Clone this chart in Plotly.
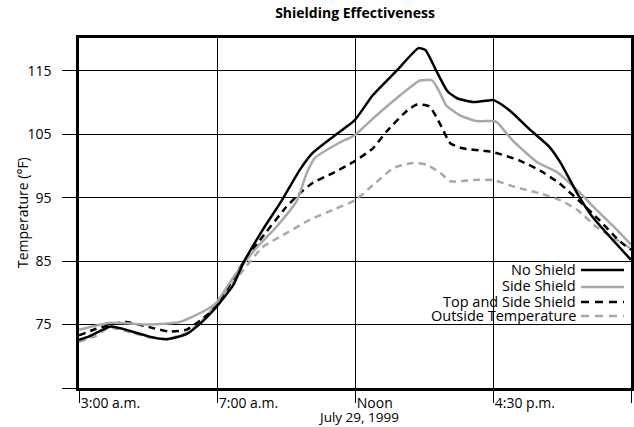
import plotly.graph_objects as go

# x positions along the axis (0 = 3:00 a.m., 1 = 7:00 a.m., 2 = Noon, 3 = 4:30 p.m., 4 = right end)
no_shield_x = [0, 0.07, 0.23, 0.37, 0.51, 0.63, 0.77, 0.88, 1.0, 1.12, 1.19, 1.33, 1.47, 1.60, 1.69, 1.84,
               2.0, 2.13, 2.30, 2.46, 2.51, 2.59, 2.67, 2.74, 2.86, 2.98, 3.0, 3.07, 3.145, 3.27, 3.41,
               3.49, 3.61, 3.72, 3.87, 4.0]
no_shield_y = [72.6, 73.1, 74.7, 74.0, 73.1, 72.7, 73.4, 75.2, 77.9, 81.3, 84.7, 89.9, 94.6, 99.4, 102.0, 104.6,
               107.3, 111.2, 115.0, 118.6, 118.3, 115.0, 111.8, 110.7, 110.1, 110.4, 110.4, 109.6, 108.3, 105.7, 103.0,
               100.5, 95.7, 92.0, 88.3, 85.2]

side_shield_x = [0, 0.23, 0.51, 0.73, 0.92, 1.0, 1.12, 1.29, 1.43, 1.58, 1.65, 1.71, 1.88, 2.0, 2.13, 2.33,
                 2.47, 2.56, 2.61, 2.66, 2.76, 2.88, 3.0, 3.03, 3.14, 3.32, 3.46, 3.61, 3.75, 3.90, 4.0]
side_shield_y = [74.2, 75.3, 75.0, 75.4, 77.3, 78.6, 82.5, 87.2, 90.4, 94.6, 98.9, 101.3, 103.6, 104.9, 107.5, 111.2,
                 113.5, 113.5, 111.8, 109.6, 108.0, 107.1, 107.1, 106.9, 104.1, 100.6, 99.1, 96.2, 93.1, 89.9, 87.6]

top_side_x = [0, 0.12, 0.23, 0.34, 0.51, 0.65, 0.78, 0.90, 1.0, 1.17, 1.31, 1.50, 1.60, 1.69, 1.84, 2.0,
              2.13, 2.23, 2.38, 2.45, 2.54, 2.62, 2.69, 2.78, 2.93, 3.0, 3.19, 3.34, 3.48, 3.62, 3.77, 3.91, 4.0]
top_side_y = [73.3, 74.3, 75.0, 75.4, 74.6, 73.9, 74.2, 76.0, 78.0, 84.1, 88.3, 93.5, 95.7, 97.3, 98.9, 100.8,
              102.8, 105.5, 108.8, 109.7, 109.4, 106.5, 103.6, 102.8, 102.4, 102.2, 100.9, 99.3, 97.3, 94.6, 91.5, 88.3, 86.8]

outside_x = [0, 0.12, 0.22, 0.37, 0.53, 0.65, 0.80, 0.90, 1.0, 1.19, 1.33, 1.50, 1.67, 1.84, 2.0, 2.13,
             2.28, 2.42, 2.52, 2.62, 2.69, 2.86, 3.0, 3.16, 3.34, 3.49, 3.61, 3.75, 3.90, 4.0]
outside_y = [72.3, 73.2, 74.5, 73.8, 72.9, 72.8, 73.9, 75.8, 78.4, 83.6, 87.2, 89.4, 91.5, 93.1, 94.6, 97.0,
             99.7, 100.5, 100.2, 98.9, 97.6, 97.8, 97.8, 96.7, 95.7, 94.6, 93.1, 90.4, 88.3, 87.0]

series_names = ["No Shield", "Side Shield", "Top and Side Shield", "Outside Temperature"]
x_tick_vals = [0, 1, 2, 3, 4]
x_tick_text = ["3:00 a.m.", "7:00 a.m.", "Noon", "4:30 p.m.", ""]
y_tick_vals = [65, 75, 85, 95, 105, 115]
y_tick_text = ["", "75", "85", "95", "105", "115"]

GRAY = "#a8a8a8"
FONT = "Open Sans"
styles = [
    dict(color="black", width=2.5, dash="solid"),
    dict(color=GRAY, width=2.5, dash="solid"),
    dict(color="black", width=2.5, dash="7px,5px"),
    dict(color=GRAY, width=2.5, dash="7px,5px"),
]
data = [(no_shield_x, no_shield_y), (side_shield_x, side_shield_y),
        (top_side_x, top_side_y), (outside_x, outside_y)]

fig = go.Figure()
for i in [3, 2, 1, 0]:
    xs, ys = data[i]
    fig.add_trace(go.Scatter(x=xs, y=ys, mode="lines", name=series_names[i],
                             line=dict(shape="spline", smoothing=0.5, **styles[i]),
                             showlegend=False, hoverinfo="skip"))

L, R, T, B = 79, 631, 38, 388
W, H = 634, 427

def px(xp):
    return (xp - L) / (R - L)

def py(yp):
    return (B - yp) / (B - T)

leg_text_y = [269, 285, 301, 315]
leg_line_y = [270, 287, 302, 316]
for i, name in enumerate(series_names):
    fig.add_annotation(x=px(577), y=py(leg_text_y[i]), xref="paper", yref="paper",
                       text=name, showarrow=False, xanchor="right", yanchor="middle",
                       font=dict(family=FONT, size=14.5, color="black"), borderpad=0)
    fig.add_shape(type="line", xref="paper", yref="paper",
                  x0=px(581), x1=px(624), y0=py(leg_line_y[i]), y1=py(leg_line_y[i]),
                  line=dict(color=styles[i]["color"], width=2.5,
                            dash="solid" if styles[i]["dash"] == "solid" else "8px,6px"))

fig.add_annotation(x=px(358), y=py(417), xref="paper", yref="paper", text="July 29, 1999",
                   showarrow=False, xanchor="center", yanchor="middle",
                   font=dict(family=FONT, size=13.5, color="black"))

fig.add_annotation(x=px(22), y=0.5, xref="paper", yref="paper", text="Temperature (°F)",
                   showarrow=False, textangle=-90, xanchor="center", yanchor="middle",
                   font=dict(family=FONT, size=14, color="black"))

fig.update_layout(
    width=W, height=H,
    margin=dict(l=L, r=W - R, t=T, b=H - B, autoexpand=False),
    paper_bgcolor="white", plot_bgcolor="white",
    title=dict(text="<b>Shielding Effectiveness</b>", x=0.5 * (L + R) / W, xanchor="center",
               y=1 - 13 / H, yanchor="middle", font=dict(family=FONT, size=14, color="black")),
    font=dict(family=FONT, size=14, color="black"),
    xaxis=dict(range=[0, 4], tickvals=x_tick_vals, ticktext=x_tick_text,
               ticklabelposition="outside right", ticks="outside", ticklen=12, tickwidth=1,
               tickcolor="black", showgrid=True, gridcolor="black", gridwidth=1,
               showline=True, linecolor="black", linewidth=2.5, mirror=True, automargin=False,
               zeroline=False, tickfont=dict(family=FONT, size=14)),
    yaxis=dict(range=[65, 120.2], tickvals=y_tick_vals, ticktext=y_tick_text,
               ticks="outside", ticklen=14, tickwidth=1, tickcolor="black",
               showgrid=True, gridcolor="black", gridwidth=1, automargin=False,
               showline=True, linecolor="black", linewidth=2.5, mirror=True,
               zeroline=False, tickfont=dict(family=FONT, size=14), ticklabelstandoff=8),
)

fig.write_html("out.html", config={"displayModeBar": False},
               post_script="document.body.style.margin='0px';document.body.style.padding='0px';")
